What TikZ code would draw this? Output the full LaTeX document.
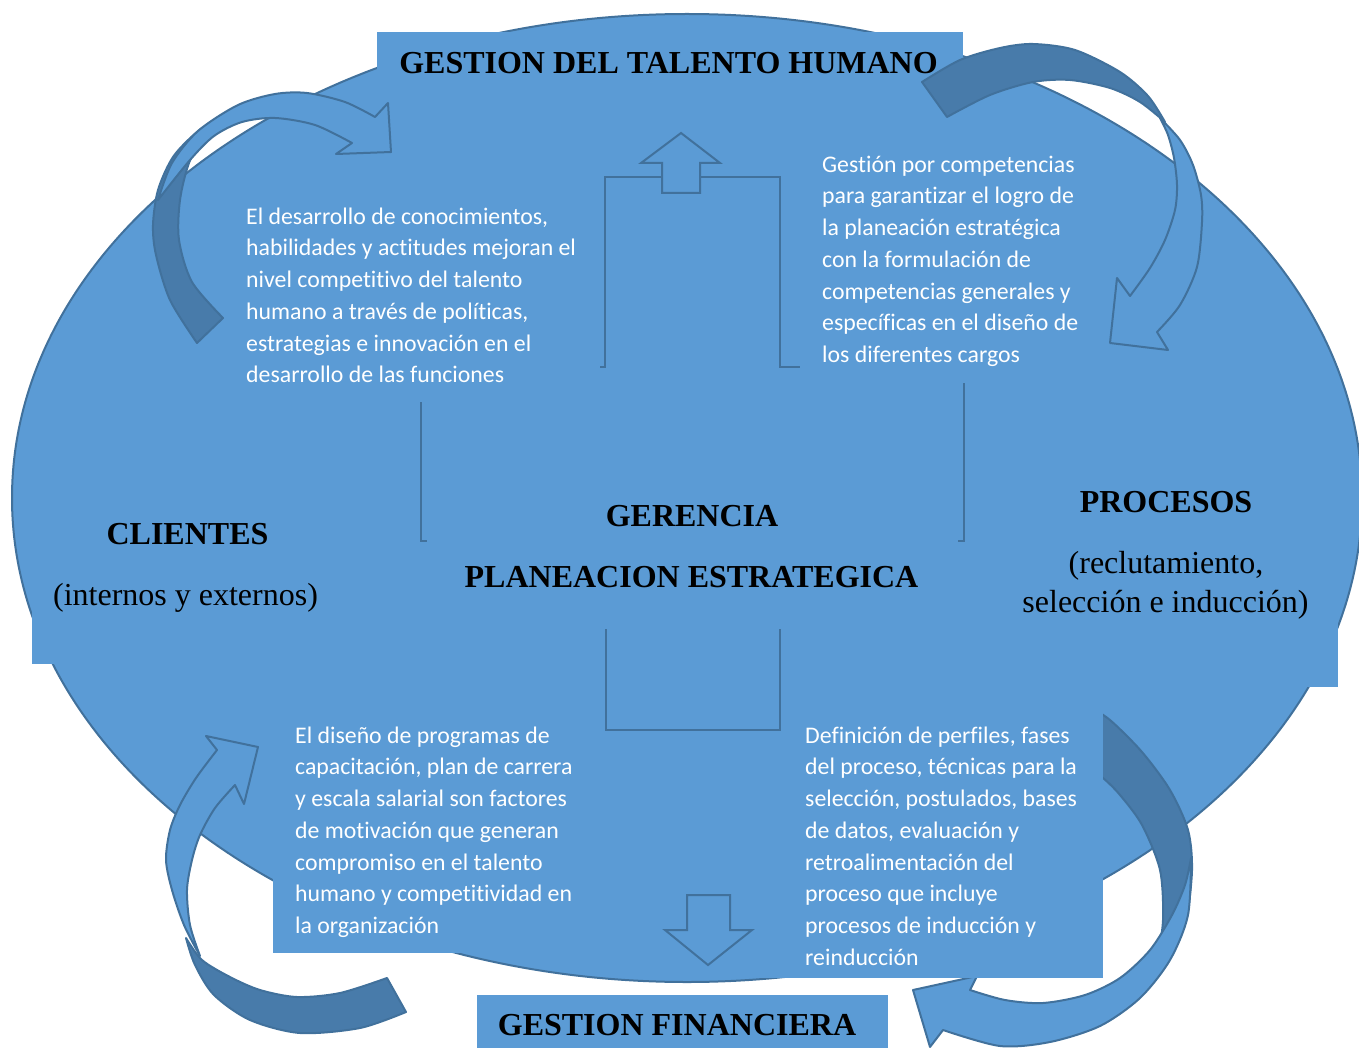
\documentclass[tikz,border=0pt]{standalone}
\usepackage{fontspec}
\setmainfont{Liberation Serif}
\newfontfamily\bodyfont[Ligatures=NoCommon]{Carlito}
\definecolor{fillblue}{RGB}{91,155,213}
\definecolor{edgeblue}{RGB}{65,113,156}
\definecolor{shadeblue}{RGB}{72,123,170}

\tikzset{
  panel/.style={fill=fillblue, draw=none},
  edge line/.style={draw=edgeblue, line width=2pt, line join=round},
  back band/.style={fill=shadeblue, edge line},
  front band/.style={fill=fillblue, edge line},
  title/.style={font=\fontsize{32}{38}\selectfont\bfseries, text=black, inner sep=0pt, anchor=base},
  subtitle/.style={font=\fontsize{32}{38}\selectfont, text=black, inner sep=0pt, anchor=base},
  body/.style={font=\bodyfont\fontsize{23.8}{31.7}\selectfont, text=white, align=left, inner sep=0pt, anchor=north west},
}

% curved ribbon arrows: a shaded back crescent (from the tail) and a front crescent carrying the head
\def\backTL{plot[smooth] coordinates {(197,343) (170,300) (156,255) (153,225) (158,190) (173,157) (197,132) (225,113)} -- plot[smooth] coordinates {(225,113) (204,136) (189,163) (180,200) (179,240) (192,282) (223,318)} -- cycle}
\def\frontTL{plot[smooth] coordinates {(158,200) (172,163) (198,131) (238,105) (275,94) (307,93) (345,102) (375,117)} -- (388,103) -- (391,152) -- (336,154) -- plot[smooth] coordinates {(352,143) (315,125) (275,118) (242,122) (214,136) (190,160) (158,200)} -- cycle}

\def\backTR{plot[smooth] coordinates {(922,82) (960,60) (1000,48) (1033,44) (1075,50) (1120,72) (1148,96) (1165,122)} -- plot[smooth] coordinates {(1165,122) (1140,102) (1110,88) (1070,80) (1033,82) (990,95) (947,117)} -- cycle}
\def\frontTR{plot[smooth] coordinates {(1160,118) (1180,140) (1193,165) (1201,195) (1202,222) (1197,267) (1180,305) (1157,332)} -- (1168,350) -- (1110,343) -- (1117,278) -- plot[smooth] coordinates {(1130,296) (1150,268) (1165,240) (1175,210) (1177,185) (1174,158) (1168,135) (1160,118)} -- cycle}

\def\backBL{plot[smooth] coordinates {(406,1012) (360,1028) (300,1033) (250,1020) (214,995) (195,965) (186,938)} -- plot[smooth] coordinates {(186,938) (202,960) (230,977) (260,990) (297,997) (340,993) (387,978)} -- cycle}
\def\frontBL{plot[smooth] coordinates {(200,956) (184,925) (172,890) (166,860) (170,830) (180,805) (196,778) (217,750)} -- (206,736) -- (258,747) -- (244,804) -- plot[smooth] coordinates {(235,785) (215,808) (200,835) (192,860) (187,890) (190,925) (200,956)} -- cycle}

\def\backBR{plot[smooth] coordinates {(1088,706) (1110,720) (1142,752) (1170,790) (1188,830) (1192,870) (1186,920) (1172,947) (1157,963)} -- plot[smooth] coordinates {(1157,963) (1163,920) (1160,870) (1142,825) (1120,795) (1103,778) (1088,768)} -- cycle}
\def\frontBR{plot[smooth] coordinates {(1191,858) (1188,915) (1170,960) (1140,998) (1100,1026) (1050,1042) (1000,1046) (943,1030)} -- (930,1047) -- (913,990) -- (977,976) -- plot[smooth] coordinates {(970,990) (1005,1000) (1043,1003) (1085,995) (1120,978) (1150,950) (1172,915) (1185,885) (1191,858)} -- cycle}

\begin{document}
\begin{tikzpicture}[x=1pt, y=-1pt]
  \clip (0,0) rectangle (1359,1048);

  % main ellipse
  \filldraw[fill=fillblue, draw=edgeblue, line width=2pt] (687,498) ellipse [x radius=675pt, y radius=484pt];

  % label panels
  \fill[panel] (377,32) rectangle (963,110);
  \fill[panel] (32,470) rectangle (450,664);
  \fill[panel] (990,450) rectangle (1338,687);
  \fill[panel] (477,995) rectangle (888,1048);
  \fill[panel] (273,715) rectangle (600,953);

  % curved arrows
  \filldraw[back band] \backTL;
  \filldraw[front band] \frontTL;
  \filldraw[back band] \backTR;
  \filldraw[front band] \frontTR;
  \filldraw[back band] \backBL;
  \filldraw[front band] \frontBL;
  \filldraw[back band] \backBR;
  \filldraw[front band] \frontBR;

  \fill[panel] (760,700) rectangle (1103,978);

  % central brackets
  \draw[edge line, line join=miter] (600,367) -- (605,367) -- (605,177) -- (780,177) -- (780,367) -- (800,367);
  \draw[edge line, line join=miter] (421,402) -- (421,541) -- (427,541);
  \draw[edge line, line join=miter] (964,383) -- (964,541) -- (958,541);
  \draw[edge line, line join=miter] (606,629) -- (606,730) -- (780,730) -- (780,629);

  % block arrows
  \filldraw[fill=fillblue, edge line, line join=miter] (662,193) -- (662,163) -- (641,163) -- (681,133) -- (720,163) -- (700,163) -- (700,193) -- cycle;
  \filldraw[fill=fillblue, edge line, line join=miter] (687,895) -- (730,895) -- (730,930) -- (752,930) -- (708,965) -- (665,930) -- (687,930) -- cycle;

  % titles
  \node[title] (talento) at (668.5,74) {GESTION DEL TALENTO HUMANO};
  \node[title] (gerencia) at (692,526) {GERENCIA};
  \node[title] (planeacion) at (691.5,587) {PLANEACION ESTRATEGICA};
  \node[title] (clientes) at (187.5,544) {CLIENTES};
  \node[subtitle] (clientessub) at (185.5,605) {(internos y externos)};
  \node[title] (procesos) at (1166,512) {PROCESOS};
  \node[subtitle] (procesossuba) at (1166,573) {(reclutamiento,};
  \node[subtitle] (procesossubb) at (1165.5,612) {selección e inducción)};
  \node[title] (financiera) at (677,1035) {GESTION FINANCIERA};

  % descriptive texts
  \node[body] (txtdesarrollo) at (246,202) {\rule{0pt}{22pt}El desarrollo de conocimientos,\\habilidades y actitudes mejoran el\\nivel competitivo del talento\\humano a través de políticas,\\estrategias e innovación en el\\desarrollo de las funciones};
  \node[body] (txtcompetencias) at (822,150) {\rule{0pt}{22pt}Gestión por competencias\\para garantizar el logro de\\la planeación estratégica\\con la formulación de\\competencias generales y\\específicas en el diseño de\\los diferentes cargos};
  \node[body] (txtdiseno) at (295,721) {\rule{0pt}{22pt}El diseño de programas de\\capacitación, plan de carrera\\y escala salarial son factores\\de motivación que generan\\compromiso en el talento\\humano y competitividad en\\la organización};
  \node[body] (txtperfiles) at (805,721) {\rule{0pt}{22pt}Definición de perfiles, fases\\del proceso, técnicas para la\\selección, postulados, bases\\de datos, evaluación y\\retroalimentación del\\proceso que incluye\\procesos de inducción y\\reinducción};
\end{tikzpicture}
\end{document}
